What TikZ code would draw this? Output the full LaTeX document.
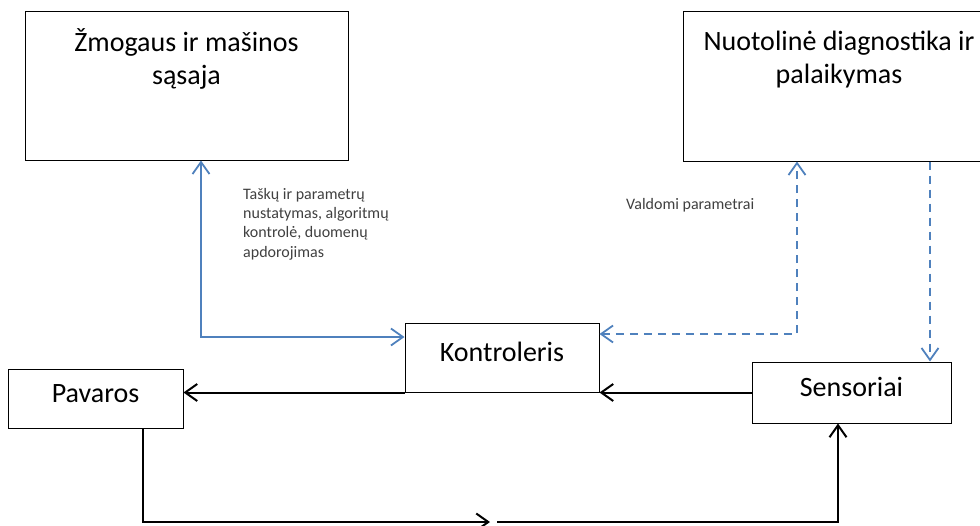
\documentclass[tikz,border=0pt]{standalone}
\usepackage{fontspec}
\setmainfont{Carlito}
\usetikzlibrary{arrows.meta}
\definecolor{linkblue}{HTML}{4F81BD}
\definecolor{notegray}{HTML}{404040}

\begin{document}
\begin{tikzpicture}[x=1pt, y=-1pt,
  >={Straight Barb[length=12pt,width=17pt]},
  box/.style={draw=black, line width=1pt, inner sep=0pt},
  title/.style={font=\fontsize{28}{33.5}\selectfont, inner sep=0pt, align=center},
  smallbox/.style={box, title, text height=16pt, text depth=8pt},
  note/.style={font=\fontsize{16}{19.3}\selectfont, text=notegray,
               inner sep=0pt, align=left, anchor=base west},
  flow/.style={draw=black, line width=2pt},
  hmilink/.style={draw=linkblue, line width=1.8pt},
  remotelink/.style={draw=linkblue, line width=1.8pt, dash pattern=on 8pt off 6pt}]

  \useasboundingbox (0,0) rectangle (980,525);
  \clip (0,0) rectangle (980,525);

  % upper boxes; the base anchor sits on the last line of the text
  \node[box, minimum width=323pt, minimum height=149pt] (hmi) at (186.5,85.5) {};
  \node[title, anchor=base] (hmitext) at ([yshift=-74pt]hmi.north)
       {Žmogaus ir mašinos\\sąsaja};

  \node[box, minimum width=312pt, minimum height=150pt] (diag) at (839,86) {};
  \node[title, anchor=base] (diagtext) at ([yshift=-73pt]diag.north)
       {Nuotolinė diagnostika ir\\palaikymas};

  % lower row
  \node[smallbox, minimum width=194pt, minimum height=69pt] (k) at (502,357.5) {Kontroleris};
  \node[smallbox, minimum width=175pt, minimum height=59pt] (pav) at (95.5,398.5) {Pavaros};
  \node[smallbox, minimum width=199pt, minimum height=61pt] (sens) at (851.5,392.5) {Sensoriai};

  % connector labels
  \node[note] (hmilabel) at (243,257)
       {Taškų ir parametrų\\nustatymas, algoritmų\\kontrolė, duomenų\\apdorojimas};
  \node[note] (remotelabel) at (626,209) {Valdomi parametrai};

  % blue links
  \draw[hmilink, <->] ([xshift=14.5pt]hmi.south) |- ([yshift=20.5pt]k.west);
  \draw[remotelink, <->] ([yshift=23.5pt]k.east) -| ([xshift=-42pt]diag.south);
  \draw[remotelink, ->] ([xshift=91pt]diag.south) -- ([xshift=91pt]diag.south |- sens.north);

  % control loop
  \draw[flow, ->] (sens.west) -- (sens.west -| k.east);
  \draw[flow, ->] (k.south west) -- (k.south west -| pav.east);
  \coordinate (gapL) at (490,522);
  \coordinate (gapR) at (497,522);
  \draw[flow, ->] ([xshift=47.5pt]pav.south) |- (gapL);
  \draw[flow, ->] (gapR) -| ([xshift=-13.5pt]sens.south);
\end{tikzpicture}
\end{document}
